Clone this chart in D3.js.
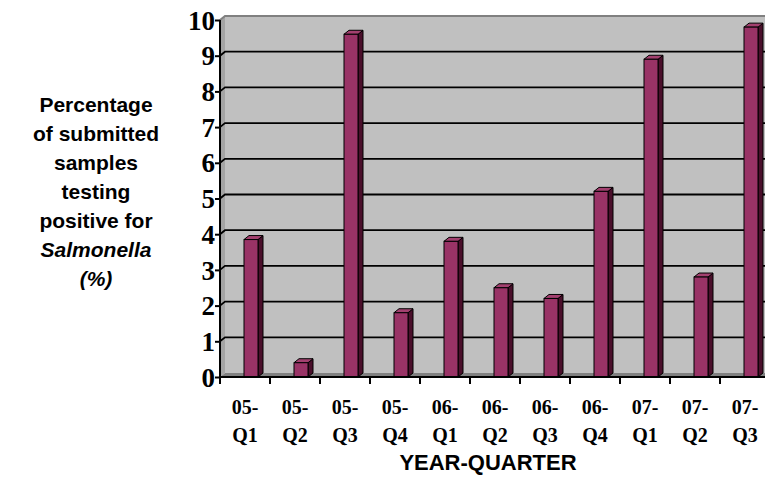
<!DOCTYPE html>
<html>
<head>
<meta charset="utf-8">
<script src="https://cdn.jsdelivr.net/npm/d3@7"></script>
<style>
  html, body { margin: 0; padding: 0; background: #fff; }
  svg { display: block; }
</style>
</head>
<body>
<svg id="chart" width="765" height="477"></svg>
<script>
// Quarterly Salmonella positivity, 2005-Q1 through 2007-Q3
const yearLabels = ["05-", "05-", "05-", "05-", "06-", "06-", "06-", "06-", "07-", "07-", "07-"];
const quarterLabels = ["Q1", "Q2", "Q3", "Q4", "Q1", "Q2", "Q3", "Q4", "Q1", "Q2", "Q3"];
const categories = yearLabels.map((y, i) => y + quarterLabels[i]);
const positivePct = [3.85, 0.4, 9.6, 1.8, 3.8, 2.5, 2.2, 5.2, 8.9, 2.8, 9.8];
const yTicks = [0, 1, 2, 3, 4, 5, 6, 7, 8, 9, 10];
const yTitleLines = ["Percentage", "of submitted", "samples", "testing", "positive for", "Salmonella", "(%)"];

const svg = d3.select("#chart");

// Front plane of the 3-D plot and the depth offset of the back wall
const x = d3.scaleBand().domain(categories).range([220, 770]).padding(0);
const y = d3.scaleLinear().domain([0, 10]).range([377, 20]);
const DX = 5, DY = -4;
const x0 = x.range()[0], x1 = x.range()[1];
const yTop = y(10), yBot = y(0);

// Walls and floor
svg.append("polygon")
  .attr("points", [[x0 + DX, yTop + DY], [x1 + DX, yTop + DY], [x1 + DX, yBot + DY], [x0 + DX, yBot + DY]].join(" "))
  .attr("fill", "#c0c0c0");
svg.append("polygon")
  .attr("points", [[x0, yBot], [x0, yTop], [x0 + DX, yTop + DY], [x0 + DX, yBot + DY]].join(" "))
  .attr("fill", "#a4a4a4");
svg.append("polygon")
  .attr("points", [[x0, yBot], [x1, yBot], [x1 + DX, yBot + DY], [x0 + DX, yBot + DY]].join(" "))
  .attr("fill", "#808080");
// wall top edge
svg.append("path")
  .attr("d", `M${x0},${yTop}L${x0 + DX},${yTop + DY}H${x1 + DX}`)
  .attr("fill", "none").attr("stroke", "#808080").attr("stroke-width", 2);

// Gridlines on side wall and back wall
const grid = svg.append("g");
yTicks.filter(v => v > 0 && v < 10).forEach(v => {
  grid.append("path")
    .attr("d", `M${x0},${y(v)}L${x0 + DX},${y(v) + DY}H${x1 + DX}`)
    .attr("fill", "none").attr("stroke", "#000").attr("stroke-width", 1.8);
});

// Bars: front face, right side and top
const bw = 14;
const bars = svg.append("g").selectAll("g").data(categories).join("g");
bars.each(function (c, i) {
  const g = d3.select(this);
  const left = x(c) + x.bandwidth() * 0.48;
  const right = left + bw;
  const top = y(positivePct[i]);
  const base = yBot;
  g.append("polygon")
    .attr("points", [[right, base], [right, top], [right + DX, top + DY], [right + DX, base + DY]].join(" "))
    .attr("fill", "#4a0f2b").attr("stroke", "#000").attr("stroke-width", 1).attr("stroke-linejoin", "round");
  g.append("polygon")
    .attr("points", [[left, top], [right, top], [right + DX, top + DY], [left + DX, top + DY]].join(" "))
    .attr("fill", "#a3406f").attr("stroke", "#000").attr("stroke-width", 1).attr("stroke-linejoin", "round");
  g.append("rect")
    .attr("x", left).attr("y", top).attr("width", bw).attr("height", base - top)
    .attr("fill", "#993366").attr("stroke", "#000").attr("stroke-width", 1);
});

// Y axis
const yAxis = d3.axisLeft(y).tickValues(yTicks).tickSize(5).tickPadding(0).tickFormat(d3.format("d"));
const ya = svg.append("g").attr("transform", `translate(${x0},0)`).call(yAxis);
ya.select(".domain").attr("stroke", "#000").attr("stroke-width", 2).attr("d", `M0,${yBot}V${yTop}`);
ya.selectAll(".tick line").attr("stroke", "#000").attr("stroke-width", 2);
ya.selectAll(".tick text")
  .attr("font-family", "'Liberation Serif', 'Times New Roman', serif")
  .attr("font-weight", "bold").attr("font-size", 27).attr("fill", "#000")
  .attr("dy", "0.34em");

// X axis
const xa = svg.append("g").attr("transform", `translate(0,${yBot})`);
xa.append("line").attr("x1", x0).attr("x2", x1).attr("stroke", "#000").attr("stroke-width", 2);
categories.forEach(c => {
  xa.append("line").attr("x1", x(c)).attr("x2", x(c)).attr("y1", 0).attr("y2", 7)
    .attr("stroke", "#000").attr("stroke-width", 2);
});
const xl = xa.selectAll("text.cat").data(categories).join("text").attr("class", "cat")
  .attr("x", c => x(c) + x.bandwidth() / 2)
  .attr("text-anchor", "middle")
  .attr("font-family", "'Liberation Serif', 'Times New Roman', serif")
  .attr("font-weight", "bold").attr("font-size", 20).attr("fill", "#000");
xl.append("tspan").attr("x", c => x(c) + x.bandwidth() / 2).attr("y", 37).text((c, i) => yearLabels[i]);
xl.append("tspan").attr("x", c => x(c) + x.bandwidth() / 2).attr("y", 65).text((c, i) => quarterLabels[i]);

// Axis titles
svg.append("text")
  .attr("x", 488).attr("y", 470).attr("text-anchor", "middle")
  .attr("font-family", "'Liberation Sans', Arial, sans-serif")
  .attr("font-weight", "bold").attr("font-size", 22).attr("fill", "#000")
  .text("YEAR-QUARTER");

const yt = svg.append("text")
  .attr("text-anchor", "middle")
  .attr("font-family", "'Liberation Sans', Arial, sans-serif")
  .attr("font-weight", "bold").attr("font-size", 21).attr("fill", "#000");
yTitleLines.forEach((t, i) => {
  yt.append("tspan").attr("x", 96).attr("y", 112 + i * 29)
    .attr("font-style", i >= 5 ? "italic" : "normal")
    .text(t);
});
</script>
</body>
</html>
